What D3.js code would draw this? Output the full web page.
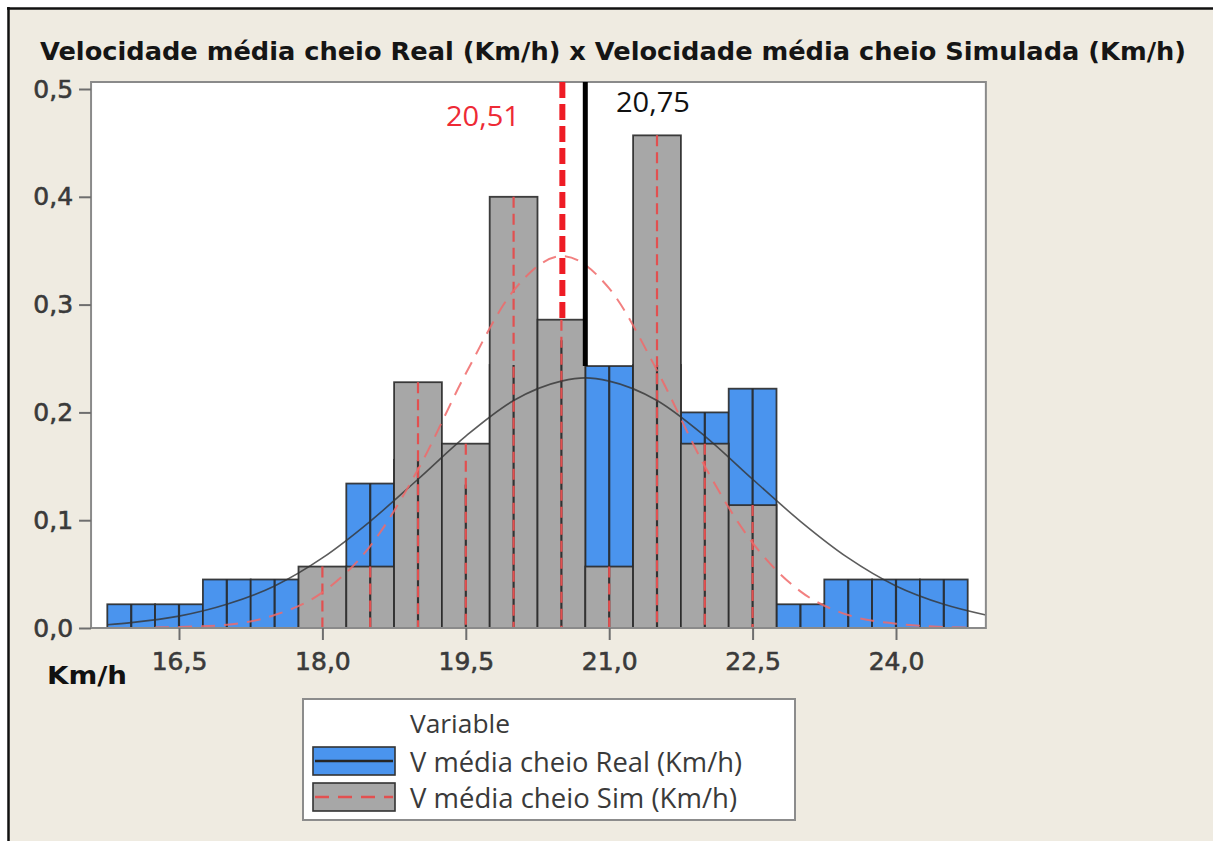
<!DOCTYPE html>
<html>
<head>
<meta charset="utf-8">
<script src="https://cdn.jsdelivr.net/npm/d3@7"></script>
<style>
    body { margin: 0; background: #ffffff; }
    svg { display: block; }
</style>
</head>
<body>
<svg id="chart" width="1213" height="841"></svg>
<script>
// histogram bins (width 0.5), density values
const bin_centers = [16.0, 16.5, 17.0, 17.5, 18.0, 18.5, 19.0, 19.5, 20.0, 20.5, 21.0, 21.5, 22.0, 22.5, 23.0, 23.5, 24.0, 24.5];
const real_density = [0.022, 0.022, 0.045, 0.045, 0, 0.134, 0.156, 0.133, 0.244, 0.267, 0.243, 0.244, 0.200, 0.222, 0.022, 0.045, 0.045, 0.045];
const sim_density = [0, 0, 0, 0, 0.057, 0.057, 0.228, 0.171, 0.400, 0.286, 0.057, 0.457, 0.171, 0.114, 0, 0, 0, 0];

// fitted curves, points
const real_fit_x = [15.75, 16, 16.5, 17, 17.5, 18, 18.5, 19, 19.5, 20, 20.5, 20.75, 21, 21.5, 22, 22.5, 23, 23.5, 24, 24.5, 24.94];
const real_fit_y = [0.003, 0.005, 0.011, 0.022, 0.039, 0.065, 0.099, 0.138, 0.178, 0.211, 0.229, 0.232, 0.229, 0.211, 0.178, 0.138, 0.099, 0.065, 0.039, 0.022, 0.012];
const sim_fit_x = [16.25, 16.5, 17, 17.5, 18, 18.5, 19, 19.5, 20, 20.51, 21, 21.5, 22, 22.5, 23, 23.5, 24, 24.5, 24.75];
const sim_fit_y = [0.0005, 0.001, 0.003, 0.012, 0.033, 0.076, 0.147, 0.236, 0.313, 0.345, 0.315, 0.239, 0.150, 0.079, 0.034, 0.012, 0.004, 0.001, 0.0005];

const mean_values = [20.51, 20.75];
const mean_labels = ["20,51", "20,75"];

const x_ticks = [16.5, 18.0, 19.5, 21.0, 22.5, 24.0];
const y_ticks = [0, 0.1, 0.2, 0.3, 0.4, 0.5];

const title_text = "Velocidade média cheio Real (Km/h) x Velocidade média cheio Simulada (Km/h)";
const legend_title = "Variable";
const legend_labels = ["V média cheio Real (Km/h)", "V média cheio Sim (Km/h)"];

const blue = "#4a94ee";
const gray = "#a7a7a7";
const beige = "#efebe1";
const bin_width = 0.5;

const svg = d3.select("#chart");

// window background and border
svg.append("rect").attr("x", 9).attr("y", 9).attr("width", 1204).attr("height", 832).attr("fill", beige);
svg.append("line").attr("x1", 7).attr("x2", 1213).attr("y1", 8.5).attr("y2", 8.5).attr("stroke", "#111").attr("stroke-width", 2.5);
svg.append("line").attr("x1", 8.5).attr("x2", 8.5).attr("y1", 7).attr("y2", 841).attr("stroke", "#111").attr("stroke-width", 2.5);

svg.append("text")
    .attr("x", 40).attr("y", 60)
    .attr("font-family", "DejaVu Sans").attr("font-weight", "bold").attr("font-size", 24)
    .attr("fill", "#151515")
    .attr("textLength", 1146).attr("lengthAdjust", "spacingAndGlyphs")
    .text(title_text);

const x = d3.scaleLinear().domain([16.5, 24.0]).range([179, 896]);
const y = d3.scaleLinear().domain([0, 0.5]).range([628, 89]);
const plot_left = x(15.58), plot_right = x(24.94), plot_top = 82, plot_bottom = y(0);

svg.append("rect")
    .attr("x", plot_left).attr("y", plot_top)
    .attr("width", plot_right - plot_left).attr("height", plot_bottom - plot_top)
    .attr("fill", "#ffffff");

const bins = bin_centers.map((c, i) => ({ c: c, real: real_density[i], sim: sim_density[i] }));

// real bars first, simulated on top
const bar_group = svg.append("g");
bar_group.selectAll("rect.real")
    .data(bins.filter(d => d.real > 0))
    .enter()
    .append("rect")
    .attr("class", "real")
    .attr("x", d => x(d.c - bin_width / 2))
    .attr("y", d => y(d.real))
    .attr("width", d => x(d.c + bin_width / 2) - x(d.c - bin_width / 2))
    .attr("height", d => y(0) - y(d.real))
    .attr("fill", blue)
    .attr("stroke", "#2a2a2a").attr("stroke-opacity", 0.9).attr("stroke-width", 1.8);

bar_group.selectAll("rect.sim")
    .data(bins.filter(d => d.sim > 0))
    .enter()
    .append("rect")
    .attr("class", "sim")
    .attr("x", d => x(d.c - bin_width / 2))
    .attr("y", d => y(d.sim))
    .attr("width", d => x(d.c + bin_width / 2) - x(d.c - bin_width / 2))
    .attr("height", d => y(0) - y(d.sim))
    .attr("fill", gray)
    .attr("stroke", "#2a2a2a").attr("stroke-opacity", 0.9).attr("stroke-width", 1.8);

// center lines of each bin (solid for real, dashed red for sim)
bar_group.selectAll("line.real")
    .data(bins.filter(d => d.real > 0))
    .enter()
    .append("line")
    .attr("x1", d => x(d.c)).attr("x2", d => x(d.c))
    .attr("y1", d => y(d.real)).attr("y2", y(0))
    .attr("stroke", "#262626").attr("stroke-opacity", 0.9).attr("stroke-width", 2.2);

bar_group.selectAll("line.sim")
    .data(bins.filter(d => d.sim > 0))
    .enter()
    .append("line")
    .attr("x1", d => x(d.c)).attr("x2", d => x(d.c))
    .attr("y1", d => y(d.sim)).attr("y2", y(0))
    .attr("stroke", "#e25050").attr("stroke-width", 2.2)
    .attr("stroke-dasharray", "11,6");

// fitted curves
const fit_line = d3.line()
    .x(d => x(d[0]))
    .y(d => y(d[1]))
    .curve(d3.curveMonotoneX);

svg.append("path")
    .datum(real_fit_x.map((v, i) => [v, real_fit_y[i]]))
    .attr("d", fit_line)
    .attr("fill", "none")
    .attr("stroke", "#333").attr("stroke-opacity", 0.8).attr("stroke-width", 1.6);

svg.append("path")
    .datum(sim_fit_x.map((v, i) => [v, sim_fit_y[i]]))
    .attr("d", fit_line)
    .attr("fill", "none")
    .attr("stroke", "#f06a6a").attr("stroke-opacity", 0.85).attr("stroke-width", 2)
    .attr("stroke-dasharray", "14,9");

// frame
svg.append("rect")
    .attr("x", plot_left).attr("y", plot_top)
    .attr("width", plot_right - plot_left).attr("height", plot_bottom - plot_top)
    .attr("fill", "none")
    .attr("stroke", "#8a8a8a").attr("stroke-width", 2);

// axes
const fmt = d => d3.format(".1f")(d).replace(".", ",");

const y_axis = svg.append("g")
    .attr("transform", `translate(${plot_left},0)`)
    .call(d3.axisLeft(y).tickValues(y_ticks).tickFormat(fmt).tickSize(12).tickPadding(6));
y_axis.select(".domain").remove();
y_axis.selectAll(".tick line").attr("stroke", "#6e6e6e").attr("stroke-width", 2);
y_axis.selectAll(".tick text")
    .attr("font-family", "DejaVu Sans").attr("font-size", 25).attr("fill", "#3a3a3a")
    .attr("stroke", "#3a3a3a").attr("stroke-width", 0.6);

const x_axis = svg.append("g")
    .attr("transform", `translate(0,${plot_bottom})`)
    .call(d3.axisBottom(x).tickValues(x_ticks).tickFormat(fmt).tickSize(12));
x_axis.select(".domain").remove();
x_axis.selectAll(".tick line").attr("stroke", "#6e6e6e").attr("stroke-width", 2);
x_axis.selectAll(".tick text")
    .attr("y", 42).attr("dy", 0)
    .attr("font-family", "DejaVu Sans").attr("font-size", 25).attr("fill", "#3a3a3a")
    .attr("stroke", "#3a3a3a").attr("stroke-width", 0.6);

svg.append("text")
    .attr("x", 47).attr("y", 684)
    .attr("font-family", "DejaVu Sans").attr("font-weight", "bold").attr("font-size", 24)
    .attr("fill", "#111")
    .attr("textLength", 80).attr("lengthAdjust", "spacingAndGlyphs")
    .text("Km/h");

// mean markers: line from top of plot down to the bar under it
function bar_top_at(v) {
    let i = Math.floor((v - (bin_centers[0] - bin_width / 2)) / bin_width);
    return Math.max(real_density[i], sim_density[i]);
}

svg.append("line")
    .attr("x1", x(mean_values[0])).attr("x2", x(mean_values[0]))
    .attr("y1", plot_top).attr("y2", y(bar_top_at(mean_values[0])))
    .attr("stroke", "#ee1c25").attr("stroke-width", 6)
    .attr("stroke-dasharray", "16,6");

svg.append("line")
    .attr("x1", x(mean_values[1])).attr("x2", x(mean_values[1]))
    .attr("y1", plot_top).attr("y2", y(bar_top_at(mean_values[1])))
    .attr("stroke", "#000").attr("stroke-width", 5);

svg.append("text")
    .attr("x", 446).attr("y", 126)
    .attr("font-family", "Open Sans").attr("font-size", 27)
    .attr("fill", "#ee2a35")
    .attr("textLength", 74).attr("lengthAdjust", "spacingAndGlyphs")
    .text(mean_labels[0]);

svg.append("text")
    .attr("x", 616).attr("y", 112)
    .attr("font-family", "Open Sans").attr("font-size", 27)
    .attr("fill", "#111")
    .attr("textLength", 74).attr("lengthAdjust", "spacingAndGlyphs")
    .text(mean_labels[1]);

// legend
const legend = svg.append("g");
legend.append("rect")
    .attr("x", 303).attr("y", 699).attr("width", 492).attr("height", 121)
    .attr("fill", "#fff").attr("stroke", "#8c8c8c").attr("stroke-width", 2);

legend.append("text")
    .attr("x", 410).attr("y", 733)
    .attr("font-family", "Open Sans").attr("font-size", 25).attr("fill", "#3a3a3a")
    .attr("textLength", 100).attr("lengthAdjust", "spacingAndGlyphs")
    .text(legend_title);

const legend_rows = [
    { label: legend_labels[0], fill: blue, line: "#262626", dash: null, y: 747, width: 332 },
    { label: legend_labels[1], fill: gray, line: "#e25050", dash: "14,9", y: 783, width: 327 }
];

legend_rows.forEach(r => {
    legend.append("rect")
        .attr("x", 313).attr("y", r.y).attr("width", 82).attr("height", 28)
        .attr("fill", r.fill).attr("stroke", "#333").attr("stroke-width", 1.6);
    legend.append("line")
        .attr("x1", 315).attr("x2", 393)
        .attr("y1", r.y + 14).attr("y2", r.y + 14)
        .attr("stroke", r.line).attr("stroke-width", 2.5)
        .attr("stroke-dasharray", r.dash);
    legend.append("text")
        .attr("x", 410).attr("y", r.y + 25)
        .attr("font-family", "Open Sans").attr("font-size", 27).attr("fill", "#3a3a3a")
        .attr("textLength", r.width).attr("lengthAdjust", "spacingAndGlyphs")
        .text(r.label);
});
</script>
</body>
</html>
